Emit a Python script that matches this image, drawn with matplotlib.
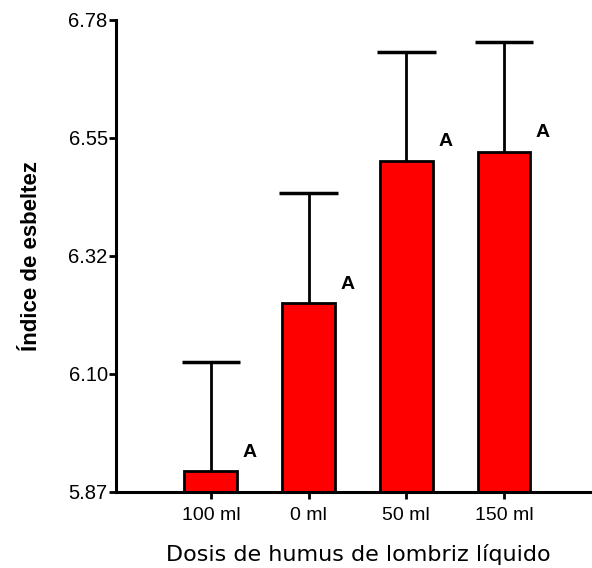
import numpy as np
import matplotlib
matplotlib.use("Agg")
import matplotlib.pyplot as plt

plt.rcParams["font.family"] = ["Liberation Sans", "DejaVu Sans"]

# data
categories = ["100 ml", "0 ml", "50 ml", "150 ml"]
means = [5.910, 6.234, 6.508, 6.526]
upper = [6.121, 6.446, 6.719, 6.738]
letters = ["A", "A", "A", "A"]

yticks = np.linspace(5.87, 6.78, 5)
ytick_labels = ["5.87", "6.10", "6.32", "6.55", "6.78"]

fig = plt.figure(figsize=(5.92, 5.68), dpi=100)
ax = fig.add_axes([0.196, 0.134, 0.804, 0.831])

x = np.arange(len(categories))
ax.bar(x, np.array(means) - 5.87, bottom=5.87, width=0.54, color="#ff0000",
       edgecolor="black", linewidth=2, zorder=3)

# upper error bars only
ax.vlines(x, means, upper, color="black", linewidth=2, zorder=2)
ax.hlines(upper, x - 0.3, x + 0.3, color="black", linewidth=2.5, zorder=2)

for xi, m, t in zip(x, means, letters):
    ax.annotate(t, (xi, m), xytext=(39, 19), textcoords="offset pixels",
                ha="center", va="center", fontsize=14, fontweight="bold")

ax.set_xlim(-0.97, 3.9)
ax.set_ylim(5.87, 6.78)
ax.set_yticks(yticks)
ax.set_yticklabels(ytick_labels)
ax.set_xticks(x)
ax.set_xticklabels(categories)

for side in ["top", "right"]:
    ax.spines[side].set_visible(False)
for side in ["left", "bottom"]:
    ax.spines[side].set_linewidth(2.2)
ax.spines["bottom"].set_zorder(4)

ax.tick_params(axis="both", direction="out", length=5, width=2)
ax.tick_params(axis="y", pad=1, labelsize=14.5)
ax.tick_params(axis="x", pad=6, labelsize=14)

ax.set_ylabel("Índice de esbeltez", fontsize=16, fontweight="bold", labelpad=19)
ax.set_xlabel("Dosis de humus de lombriz líquido", fontsize=16,
              family=["DejaVu Sans"])
ax.xaxis.set_label_coords(0.51, -0.11)

fig.savefig("out.png", dpi=100)
